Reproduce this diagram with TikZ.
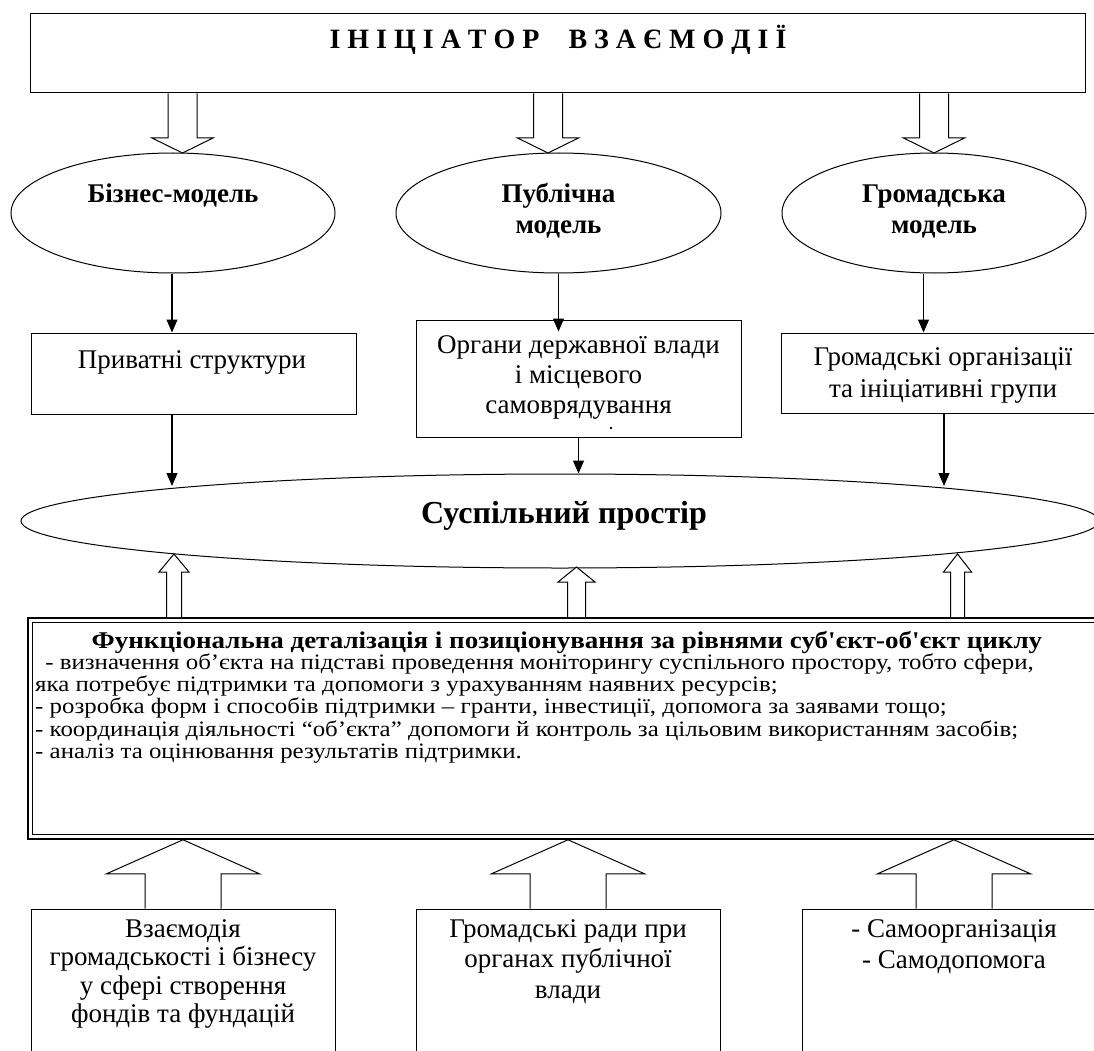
\documentclass[tikz,border=0pt]{standalone}
\usepackage{fontspec}
\setmainfont{Liberation Serif}
\newfontfamily\plainserif{Liberation Serif}
\usetikzlibrary{shapes.geometric,arrows.meta,calc}

\newcommand{\mlines}[1]{\begin{tabular}[t]{@{}c@{}}#1\end{tabular}}
% #1 tip, #2 base point on the axis, #3 shaft half width, #4 head half width, #5 signed head length (page y)
\newcommand{\blockarr}[5]{%
  \draw[blockline] let \p1=(#1), \p2=(#2) in
    ({\x1-#3},{\y2}) -- ({\x1-#3},{\y1+#5}) -- ({\x1-#4},{\y1+#5}) -- (\p1)
    -- ({\x1+#4},{\y1+#5}) -- ({\x1+#3},{\y1+#5}) -- ({\x1+#3},{\y2});}

\tikzset{
  shp/.style={draw, line width=1pt, inner sep=0pt},
  ellshape/.style={shp, ellipse},
  boxshape/.style={shp, rectangle},
  lbl/.style={inner sep=0pt, anchor=base},
  boldtxt/.style={font=\bfseries\fontsize{27}{30}\selectfont},
  regtxt/.style={font=\fontsize{27}{30}\selectfont},
  thinarrow/.style={line width=1.2pt, -{Triangle[length=13pt,width=11pt]}},
  blockline/.style={line width=1pt, fill=white, line join=miter},
}

\begin{document}
\begin{tikzpicture}[x=1pt,y=-1pt]
\useasboundingbox (0,0) rectangle (1094,1051);
\clip (0,0) rectangle (1094,1051);

% top box
\node[boxshape, minimum width=1055pt, minimum height=79pt] (top) at (558,53.5) {};
\node[lbl, font=\bfseries\fontsize{28}{30}\selectfont] (title) at (558,49)
  {І Н І Ц І А Т О Р\hspace{29pt}В З А Є М О Д І Ї};

% model ellipses
\node[ellshape, minimum width=324pt, minimum height=120pt] (bm) at (173,213) {};
\node[ellshape, minimum width=325pt, minimum height=120pt] (pm) at (558.5,213) {};
\node[ellshape, minimum width=304pt, minimum height=120pt] (gm) at (934,213) {};
\node[lbl, boldtxt] (bmt) at (173,203) {Бізнес-модель};
\node[lbl, boldtxt] (pmt) at (558.5,203) {\mlines{Публічна\\модель}};
\node[lbl, boldtxt] (gmt) at (934,203) {\mlines{Громадська\\модель}};

% block arrows from the initiator
\coordinate (d1) at (182.5,153);
\coordinate (d2) at (548,153);
\coordinate (d3) at (934,153);
\blockarr{d1}{d1 |- top.south}{14.5pt}{30.5pt}{15pt}
\blockarr{d2}{d2 |- top.south}{14.5pt}{30.5pt}{15pt}
\blockarr{d3}{d3 |- top.south}{14.5pt}{30.5pt}{15pt}

% second row boxes
\node[boxshape, minimum width=325pt, minimum height=81pt] (priv) at (193.5,373.5) {};
\node[lbl, regtxt] (privt) at (192,368) {Приватні структури};
\node[boxshape, minimum width=325pt, minimum height=117pt] (org) at (578.5,378.5) {};
\node[lbl, regtxt] (orgt) at (578.5,353) {\mlines{Органи державної влади\\і місцевого\\самоврядування}};
\node[circle, fill=black, inner sep=0pt, minimum size=2.6pt] (dot) at (611,428) {};
\node[boxshape, minimum width=324pt, minimum height=80pt] (hrom) at (943,373) {};
\node[lbl, font=\fontsize{27}{32}\selectfont] (hromt) at (943,365) {\mlines{Громадські організації\\та ініціативні групи}};

% thin arrows to second row
\coordinate (c1) at (172,0);
\coordinate (c3) at (923.5,0);
\coordinate (c4) at (944,0);
\coordinate (orgin) at ([yshift=-12pt]org.north);
\draw[thinarrow] (bm.south -| c1) -- (priv.north -| c1);
\draw[thinarrow] (pm.south) -- (orgin -| pm.south);
\draw[thinarrow] (gm.south -| c3) -- (hrom.north -| c3);

% public space
\node[ellshape, minimum width=1078pt, minimum height=94pt] (sp) at (560,521) {};
\node[lbl, font=\bfseries\fontsize{32}{36}\selectfont] (spt) at (564,523) {Суспільний простір};
\coordinate (s1) at (172,486);
\coordinate (s3) at (944,486);
\draw[thinarrow] (priv.south -| c1) -- (s1);
\draw[thinarrow] (org.south) -- (sp.north -| org.south);
\draw[thinarrow] (hrom.south -| c4) -- (s3);

% functional box
\node[boxshape, line width=1.6pt, minimum width=1072pt, minimum height=221pt] (fb) at (564,728.5) {};
\draw[line width=0.8pt] ([shift={(5,5)}]fb.north west) rectangle ([shift={(-5,-5)}]fb.south east);
\node[lbl, xscale=1.125, font=\bfseries\fontsize{24}{24}\selectfont] (ftt) at (567,648)
  {Функціональна деталізація і позиціонування за рівнями суб{\plainserif'}єкт-об{\plainserif'}єкт циклу};
\node[inner sep=0pt, anchor=base west, xscale=1.13, font=\fontsize{22}{22}\selectfont] (fbody) at (35,669)
  {\begin{tabular}[t]{@{}l@{}}
   \hspace*{9pt}- визначення об’єкта на підставі проведення моніторингу суспільного простору, тобто сфери,\\
   яка потребує підтримки та допомоги з урахуванням наявних ресурсів;\\
   - розробка форм і способів підтримки – гранти, інвестиції, допомога за заявами тощо;\\
   - координація діяльності “об’єкта” допомоги й контроль за цільовим використанням засобів;\\
   - аналіз та оцінювання результатів підтримки.
   \end{tabular}};

% block arrows up to the public space
\coordinate (u1) at (174,554);
\coordinate (u2) at (576.5,567);
\coordinate (u3) at (957.5,554);
\blockarr{u1}{u1 |- fb.north}{7.5pt}{15pt}{-18pt}
\blockarr{u2}{u2 |- fb.north}{9pt}{18.5pt}{-15pt}
\blockarr{u3}{u3 |- fb.north}{7pt}{14pt}{-18pt}

% bottom boxes
\node[boxshape, minimum width=304pt, minimum height=170pt] (bl) at (183,994) {};
\node[boxshape, minimum width=304pt, minimum height=170pt] (bmid) at (568,994) {};
\node[boxshape, minimum width=304pt, minimum height=170pt] (br) at (954,994) {};
\node[lbl, font=\fontsize{27}{28.5}\selectfont] (blt) at (183,937)
  {\mlines{Взаємодія\\громадськості і бізнесу\\у сфері створення\\фондів та фундацій}};
\node[lbl, font=\fontsize{27}{30.5}\selectfont] (bmidt) at (568,937)
  {\mlines{Громадські ради при\\органах публічної\\влади}};
\node[lbl, font=\fontsize{27}{31}\selectfont] (brt) at (954,937)
  {\mlines{- Самоорганізація\\- Самодопомога}};

% block arrows up to the functional box
\blockarr{fb.south -| bl.north}{bl.north}{38pt}{76.5pt}{-34pt}
\blockarr{fb.south -| bmid.north}{bmid.north}{38pt}{76.5pt}{-34pt}
\blockarr{fb.south -| br.north}{br.north}{38pt}{76.5pt}{-34pt}
\end{tikzpicture}
\end{document}
